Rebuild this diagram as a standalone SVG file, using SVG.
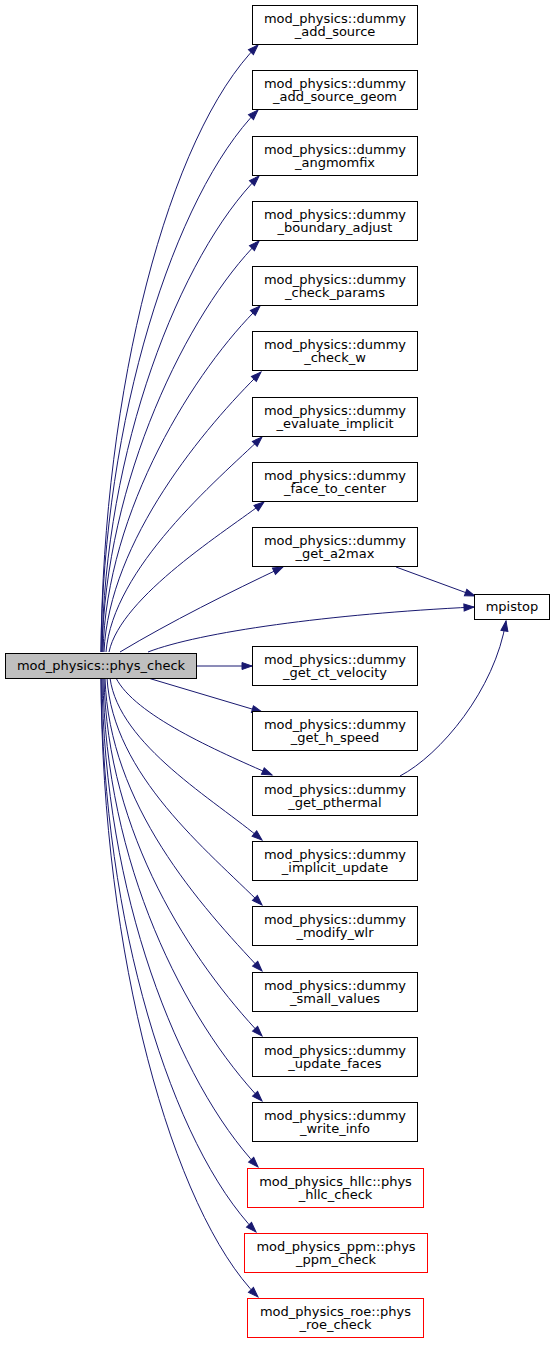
<svg xmlns="http://www.w3.org/2000/svg" width="555" height="1345" viewBox="0 0 555 1345">
<style>
.n rect{fill:#fff;stroke:#000;stroke-width:1}
.r rect{fill:#fff;stroke:#f00;stroke-width:1}
.m rect{fill:#bfbfbf;stroke:#000;stroke-width:1}
text{font-family:"DejaVu Sans","Liberation Sans",sans-serif;font-size:13px;fill:#000;text-anchor:middle}
#edges path{fill:none;stroke:#191970;stroke-width:1;marker-end:url(#ah)}
</style>
<defs>
<marker id="ah" markerUnits="userSpaceOnUse" markerWidth="11" markerHeight="8" refX="10" refY="3.5" orient="auto" overflow="visible">
<path d="M0,0 L10,3.5 L0,7 z" fill="#191970" stroke="#191970" stroke-width="1"/>
</marker>
</defs>
<rect width="555" height="1345" fill="#fff"/>
<g id="edges">
<path d="M101,652 C103,390 168,135 258,45"/>
<path d="M101,652 C103,420 174,195 258,110"/>
<path d="M102,652 C104,450 180,255 259,176"/>
<path d="M102,652 C105,480 188,312 259,241"/>
<path d="M103,652 C106,510 196,368 260,306"/>
<path d="M104,652 C109,540 206,426 261,372"/>
<path d="M106,652 C113,568 216,481 262,437"/>
<path d="M109,652 C121,596 228,530 264,502"/>
<path d="M120,652 C170,622 230,592 283,567"/>
<path d="M396,567 L475,596"/>
<path d="M148,652 C200,632 330,614 474,607"/>
<path d="M196,666 L252,666"/>
<path d="M148,678 L262,712"/>
<path d="M116,678 C135,715 215,750 272,775"/>
<path d="M400,776 C440,755 495,690 506,621"/>
<path d="M110,678 C119,745 215,800 262,840"/>
<path d="M107,678 C113,775 207,850 262,905"/>
<path d="M105,678 C109,805 200,905 262,971"/>
<path d="M104,678 C107,835 192,962 262,1036"/>
<path d="M103,678 C105,865 185,1020 262,1101"/>
<path d="M102,678 C104,895 178,1082 258,1167"/>
<path d="M101,678 C103,925 172,1145 256,1232"/>
<path d="M101,678 C102,955 172,1210 258,1297"/>
</g>
<g id="phys_check" class="m"><rect x="5.5" y="653.5" width="191" height="25"/><text x="101" y="670">mod_physics::phys_check</text></g>
<g id="mpistop" class="n"><rect x="474.5" y="594.5" width="75" height="25"/><text x="512" y="611">mpistop</text></g>
<g id="n1" class="n"><rect x="252.5" y="5.5" width="165" height="39"/><text x="335" y="23">mod_physics::dummy</text><text x="335" y="36">_add_source</text></g>
<g id="n2" class="n"><rect x="252.5" y="70.5" width="165" height="39"/><text x="335" y="88">mod_physics::dummy</text><text x="335" y="101">_add_source_geom</text></g>
<g id="n3" class="n"><rect x="252.5" y="136.5" width="165" height="39"/><text x="335" y="154">mod_physics::dummy</text><text x="335" y="167">_angmomfix</text></g>
<g id="n4" class="n"><rect x="252.5" y="201.5" width="165" height="39"/><text x="335" y="219">mod_physics::dummy</text><text x="335" y="232">_boundary_adjust</text></g>
<g id="n5" class="n"><rect x="252.5" y="266.5" width="165" height="39"/><text x="335" y="284">mod_physics::dummy</text><text x="335" y="297">_check_params</text></g>
<g id="n6" class="n"><rect x="252.5" y="331.5" width="165" height="39"/><text x="335" y="349">mod_physics::dummy</text><text x="335" y="362">_check_w</text></g>
<g id="n7" class="n"><rect x="252.5" y="397.5" width="165" height="39"/><text x="335" y="415">mod_physics::dummy</text><text x="335" y="428">_evaluate_implicit</text></g>
<g id="n8" class="n"><rect x="252.5" y="462.5" width="165" height="39"/><text x="335" y="480">mod_physics::dummy</text><text x="335" y="493">_face_to_center</text></g>
<g id="n9" class="n"><rect x="252.5" y="527.5" width="165" height="39"/><text x="335" y="545">mod_physics::dummy</text><text x="335" y="558">_get_a2max</text></g>
<g id="n10" class="n"><rect x="252.5" y="646.5" width="165" height="39"/><text x="335" y="664">mod_physics::dummy</text><text x="335" y="677">_get_ct_velocity</text></g>
<g id="n11" class="n"><rect x="252.5" y="711.5" width="165" height="39"/><text x="335" y="729">mod_physics::dummy</text><text x="335" y="742">_get_h_speed</text></g>
<g id="n12" class="n"><rect x="252.5" y="776.5" width="165" height="39"/><text x="335" y="794">mod_physics::dummy</text><text x="335" y="807">_get_pthermal</text></g>
<g id="n13" class="n"><rect x="252.5" y="841.5" width="165" height="39"/><text x="335" y="859">mod_physics::dummy</text><text x="335" y="872">_implicit_update</text></g>
<g id="n14" class="n"><rect x="252.5" y="906.5" width="165" height="39"/><text x="335" y="924">mod_physics::dummy</text><text x="335" y="937">_modify_wlr</text></g>
<g id="n15" class="n"><rect x="252.5" y="972.5" width="165" height="39"/><text x="335" y="990">mod_physics::dummy</text><text x="335" y="1003">_small_values</text></g>
<g id="n16" class="n"><rect x="252.5" y="1037.5" width="165" height="39"/><text x="335" y="1055">mod_physics::dummy</text><text x="335" y="1068">_update_faces</text></g>
<g id="n17" class="n"><rect x="252.5" y="1102.5" width="165" height="39"/><text x="335" y="1120">mod_physics::dummy</text><text x="335" y="1133">_write_info</text></g>
<g id="n18" class="r"><rect x="247.5" y="1168.5" width="176" height="39"/><text x="335.5" y="1186">mod_physics_hllc::phys</text><text x="335.5" y="1199">_hllc_check</text></g>
<g id="n19" class="r"><rect x="244.5" y="1233.5" width="183" height="39"/><text x="336" y="1251">mod_physics_ppm::phys</text><text x="336" y="1264">_ppm_check</text></g>
<g id="n20" class="r"><rect x="247.5" y="1298.5" width="176" height="39"/><text x="335.5" y="1316">mod_physics_roe::phys</text><text x="335.5" y="1329">_roe_check</text></g>
</svg>
